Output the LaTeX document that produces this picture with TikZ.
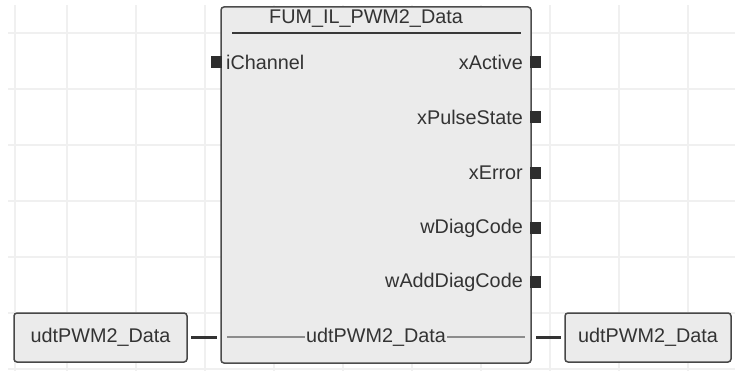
\documentclass[tikz,border=0pt]{standalone}
\usepackage{fontspec}
\setmainfont{Liberation Sans}
\begin{document}
\begin{tikzpicture}[x=1pt,y=-1pt,
  grid/.style={draw=black!6,line width=2.5pt},
  txt/.style={text=black!80,font=\fontsize{19.8}{21}\selectfont,inner sep=0pt},
  pin/.style={fill=black!82,minimum width=11pt,minimum height=12pt,inner sep=0pt},
  varbox/.style={draw=black!72,line width=1.5pt,rounded corners=3pt,fill=black!8,minimum width=173pt,minimum height=49pt,inner sep=0pt,text=black!80,font=\fontsize{19.8}{21}\selectfont},
  wire/.style={draw=black!80,line width=3pt},
  inner/.style={draw=black!45,line width=1.5pt}]
\useasboundingbox (0,0) rectangle (735,371);
% grid
\foreach \x in {15,67,136,205,274,343,412,481,550,619,688}
  \draw[grid] (\x,5) -- (\x,371);
\foreach \y in {33,89,145,201,257,313,369}
  \draw[grid] (8,\y) -- (735,\y);
% block
\node[draw=black!70,line width=1.5pt,rounded corners=3pt,fill=black!8,minimum width=310pt,minimum height=356pt,inner sep=0pt] (blk) at (376,185) {};
\node[txt] (title) at (366,19) {FUM\_IL\_PWM2\_Data};
\draw[black!78,line width=2pt] (232,33.5) -- (521,33.5);
% pins
\node[pin] (pin) at (216.5,62) {};
\node[txt,anchor=west] (ich) at (226,62) {iChannel};
\foreach \n/\y/\t in {a/62/xActive,b/117/xPulseState,c/173/xError,d/228/wDiagCode,e/282/wAddDiagCode}{
  \node[pin] (p\n) at (535.5,\y) {};
  \node[txt,anchor=east] (l\n) at (523,\y) {\t};
}
% in-out
\node[txt] (io) at (376,337) {udtPWM2\_Data};
\coordinate (ioL) at (227,337);
\coordinate (ioR) at (525,337);
\draw[inner] (ioL) -- ([xshift=-1pt]io.west);
\draw[inner] ([xshift=1pt]io.east) -- (ioR);
% variable boxes
\node[varbox] (lbox) at (100.5,337.5) {udtPWM2\_Data};
\node[varbox,minimum width=166pt] (rbox) at (648,337.5) {udtPWM2\_Data};
\draw[wire,shorten <=3.5pt,shorten >=3pt] (lbox.east) -- (blk.west |- lbox.east);
\draw[wire,shorten <=4.5pt,shorten >=3pt] (blk.east |- rbox.west) -- (rbox.west);
\end{tikzpicture}
\end{document}
